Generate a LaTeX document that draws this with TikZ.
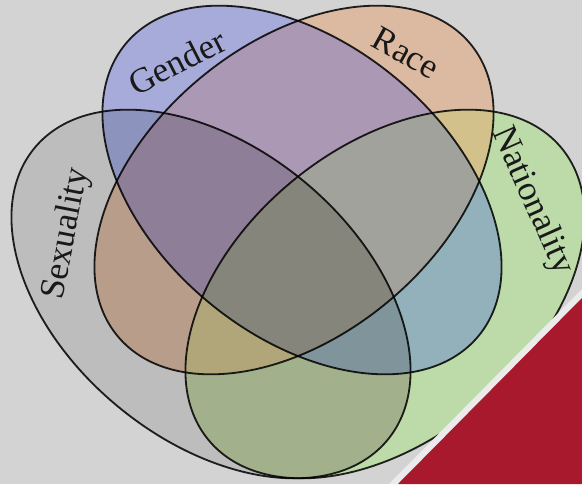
\documentclass[tikz,border=0pt]{standalone}
\usepackage{fontspec}
\setmainfont{Liberation Serif}

% colours of the single sets and of their overlaps
\definecolor{bgcol}{HTML}{D3D3D3}
\definecolor{gcol}{HTML}{A6ABD9}
\definecolor{rcol}{HTML}{DCBAA2}
\definecolor{scol}{HTML}{BDBDBD}
\definecolor{ncol}{HTML}{BDDBA8}
\definecolor{grcol}{HTML}{AB98B5}
\definecolor{gscol}{HTML}{8C93BD}
\definecolor{gncol}{HTML}{93B1BB}
\definecolor{rscol}{HTML}{B89D8B}
\definecolor{rncol}{HTML}{D2C18A}
\definecolor{sncol}{HTML}{A2B08C}
\definecolor{grscol}{HTML}{8E7E98}
\definecolor{grncol}{HTML}{A2A29C}
\definecolor{gsncol}{HTML}{7F949B}
\definecolor{rsncol}{HTML}{B0A679}
\definecolor{allcol}{HTML}{85857B}
\definecolor{cornercol}{HTML}{A8192D}

\newcommand{\ellA}{5.725cm}
\newcommand{\ellB}{3.65cm}
\newcommand{\clipG}{\clip[rotate around={-39.6:(302,190)}] (302,190) ellipse [x radius=\ellA, y radius=\ellB];}
\newcommand{\clipR}{\clip[rotate around={39.6:(294,190)}] (294,190) ellipse [x radius=\ellA, y radius=\ellB];}
\newcommand{\clipS}{\clip[rotate around={-39.6:(211,294)}] (211,294) ellipse [x radius=\ellA, y radius=\ellB];}
\newcommand{\clipN}{\clip[rotate around={39.6:(385,294)}] (385,294) ellipse [x radius=\ellA, y radius=\ellB];}
\newcommand{\region}[2]{\begin{scope}#1\fill[#2] (0,0) rectangle (582,484);\end{scope}}

\tikzset{
  outline/.style={draw=black, draw opacity=0.85, line width=1.3pt},
  setlabel/.style={font=\fontsize{25}{30}\selectfont, text=black!90, inner sep=0pt}
}

\begin{document}
\begin{tikzpicture}[x=0.025cm, y=-0.025cm]
    \useasboundingbox (0,0) rectangle (582,484);
    \fill[bgcol] (0,0) rectangle (582,484);

    % one set
    \region{\clipG}{gcol}
    \region{\clipR}{rcol}
    \region{\clipS}{scol}
    \region{\clipN}{ncol}
    % two sets
    \region{\clipG\clipR}{grcol}
    \region{\clipG\clipS}{gscol}
    \region{\clipG\clipN}{gncol}
    \region{\clipR\clipS}{rscol}
    \region{\clipR\clipN}{rncol}
    \region{\clipS\clipN}{sncol}
    % three sets
    \region{\clipG\clipR\clipS}{grscol}
    \region{\clipG\clipR\clipN}{grncol}
    \region{\clipG\clipS\clipN}{gsncol}
    \region{\clipR\clipS\clipN}{rsncol}
    % all four
    \region{\clipG\clipR\clipS\clipN}{allcol}

    % borders
    \draw[outline, rotate around={-39.6:(302,190)}] (302,190) ellipse [x radius=\ellA, y radius=\ellB];
    \draw[outline, rotate around={39.6:(294,190)}] (294,190) ellipse [x radius=\ellA, y radius=\ellB];
    \draw[outline, rotate around={-39.6:(211,294)}] (211,294) ellipse [x radius=\ellA, y radius=\ellB];
    \draw[outline, rotate around={39.6:(385,294)}] (385,294) ellipse [x radius=\ellA, y radius=\ellB];

    % labels
    \node[setlabel, rotate=27] (gender) at (177,62) {Gender};
    \node[setlabel, rotate=-29] (race) at (406,53) {Race};
    \node[setlabel, rotate=79] (sexuality) at (67,234) {Sexuality};
    \node[setlabel, rotate=-66] (nationality) at (532,201) {Nationality};

    % red corner
    \fill[black!8] (582,289) -- (582,298) -- (398,484) -- (389,484) -- cycle;
    \fill[cornercol] (582,298) -- (582,484) -- (398,484) -- cycle;
\end{tikzpicture}
\end{document}
